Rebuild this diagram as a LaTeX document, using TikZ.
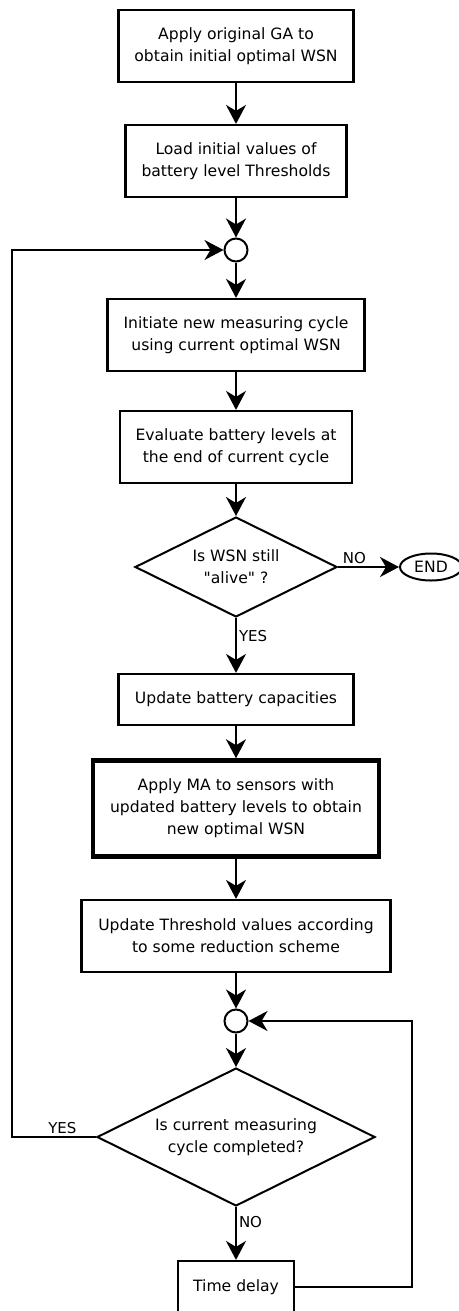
\documentclass[tikz,border=0pt]{standalone}
\usepackage{fontspec}
\setmainfont{DejaVu Sans}[Ligatures=TeXOff]
\usetikzlibrary{shapes.geometric,arrows.meta}
\begin{document}
\begin{tikzpicture}[x=1pt,y=-1pt,
  font=\fontsize{15.6}{22}\selectfont,
  stepbox/.style={draw, line width=2.2pt, align=center, inner sep=0pt},
  decision/.style={diamond, draw, line width=2pt, align=center, inner sep=0pt, aspect=2},
  junction/.style={circle, draw, line width=2pt, minimum size=23pt, inner sep=0pt},
  terminal/.style={ellipse, draw, line width=2pt, inner sep=0pt},
  flow/.style={line width=2pt, -{Stealth[length=19pt,width=20pt,inset=6pt]}},
  lbl/.style={font=\fontsize{15}{17}\selectfont, inner sep=2pt}
]
\useasboundingbox (0,0) rectangle (458,1311);

% main column
\node[stepbox, minimum width=235pt, minimum height=72pt] (ga) at (236,46)
  {Apply original GA to\\obtain initial optimal WSN};
\node[stepbox, minimum width=221pt, minimum height=72pt] (load) at (236,161)
  {Load initial values of\\battery level Thresholds};
\node[junction] (j1) at (236,250) {};
\node[stepbox, minimum width=257pt, minimum height=72pt] (init) at (236,335)
  {Initiate new measuring cycle\\using current optimal WSN};
\node[stepbox, minimum width=232pt, minimum height=72pt] (eval) at (236,447)
  {Evaluate battery levels at\\the end of current cycle};
\node[decision, minimum width=202pt, minimum height=100pt] (alive) at (236,567)
  {Is WSN still\\"alive" ?};
\node[terminal, minimum width=62pt, minimum height=27pt] (end) at (431,567) {END};
\node[stepbox, minimum width=235pt, minimum height=51pt] (upd) at (236,699.5)
  {Update battery capacities};
\node[stepbox, line width=4.5pt, minimum width=286pt, minimum height=96pt] (ma) at (236,808.5)
  {Apply MA to sensors with\\updated battery levels to obtain\\new optimal WSN};
\node[stepbox, minimum width=309pt, minimum height=72pt] (thr) at (236,936)
  {Update Threshold values according\\to some reduction scheme};
\node[junction] (j2) at (236,1021) {};
\node[decision, minimum width=278pt, minimum height=138pt] (cyc) at (236,1137)
  {Is current measuring\\cycle completed?};
\node[stepbox, minimum width=116pt, minimum height=52pt] (delay) at (236,1287)
  {Time delay};

% loop corners
\coordinate (lft) at (12,1137);
\coordinate (rgt) at (412,1287);

% connectors
\draw[flow] (ga) -- (load);
\draw[flow] (load) -- (j1);
\draw[flow] (j1) -- (init);
\draw[flow] (init) -- (eval);
\draw[flow] (eval) -- (alive);
\draw[flow] (alive.east) -- node[lbl, above, pos=0.27] {NO} (end.west);
\draw[flow] (alive.south) -- node[lbl, right, pos=0.33] {YES} (upd);
\draw[flow] (upd) -- (ma);
\draw[flow] (ma) -- (thr);
\draw[flow] (thr) -- (j2);
\draw[flow] (j2) -- (cyc);
\draw[flow] (cyc.south) -- node[lbl, right, pos=0.29] {NO} (delay);
\draw[flow] (delay.east) -- (rgt) |- (j2.east);
\draw[flow] (cyc.west) -- node[lbl, above, pos=0.4] {YES} (lft) |- (j1.west);
\end{tikzpicture}
\end{document}
